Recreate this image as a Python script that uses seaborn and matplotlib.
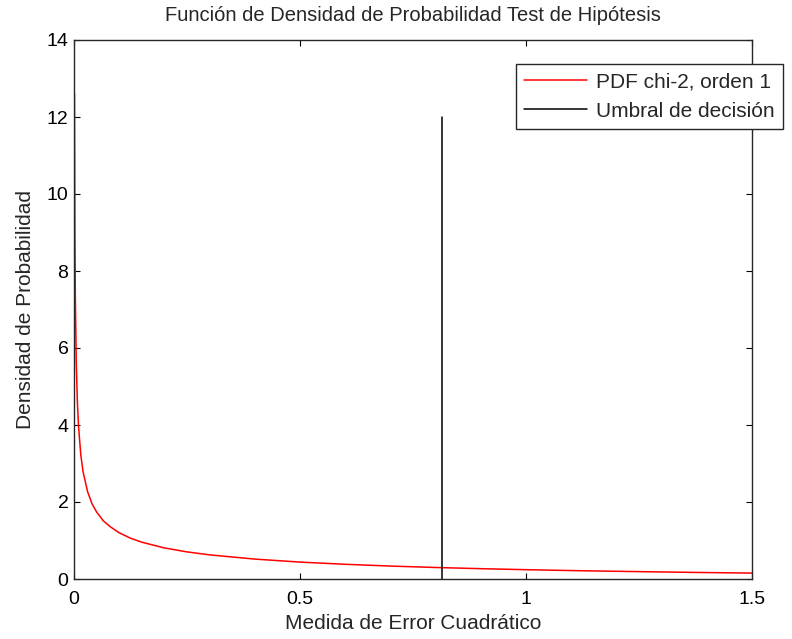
import matplotlib
matplotlib.use("Agg")
import matplotlib.pyplot as plt
import seaborn as sns
import pandas as pd

# Chi-square (1 dof) density samples along the error axis
error_x = [0.001, 0.002, 0.003, 0.005, 0.0075, 0.01, 0.015, 0.02, 0.03, 0.04,
           0.05, 0.065, 0.08, 0.1, 0.125, 0.15, 0.2, 0.25, 0.3, 0.4, 0.5,
           0.6, 0.7, 0.8, 0.9, 1.0, 1.1, 1.2, 1.3, 1.4, 1.5]
density_y = [12.6, 8.91, 7.28, 5.63, 4.59, 3.97, 3.23, 2.79, 2.27, 1.95,
             1.74, 1.51, 1.36, 1.20, 1.06, 0.956, 0.807, 0.704, 0.627, 0.517, 0.439,
             0.382, 0.336, 0.299, 0.268, 0.242, 0.219, 0.200, 0.183, 0.167, 0.154]

# Decision threshold (vertical line)
threshold_x = [0.815, 0.815]
threshold_y = [0.0, 12.0]

x_ticks = [0, 0.5, 1, 1.5]
x_tick_labels = ["0", "0.5", "1", "1.5"]
y_ticks = [0, 2, 4, 6, 8, 10, 12, 14]

sns.set_style("white")
plt.rcParams["font.family"] = ["Liberation Sans", "DejaVu Sans"]

fig = plt.figure(figsize=(7.92, 6.39), dpi=100)
ax = fig.add_axes([74 / 792, 1 - 579 / 639, (752 - 74) / 792, (579 - 40) / 639])

pdf_df = pd.DataFrame({"x": error_x, "y": density_y})
thr_df = pd.DataFrame({"x": threshold_x, "y": threshold_y})

sns.lineplot(data=pdf_df, x="x", y="y", ax=ax, color="#ff0000", linewidth=1.1,
             sort=False, estimator=None, label="PDF chi-2, orden 1")
sns.lineplot(data=thr_df, x="x", y="y", ax=ax, color="black", linewidth=1.1,
             sort=False, estimator=None, label="Umbral de decisión")

ax.set_xlim(0, 1.5)
ax.set_ylim(0, 14)
ax.set_xticks(x_ticks)
ax.set_xticklabels(x_tick_labels)
ax.set_yticks(y_ticks)

ax.tick_params(axis="both", which="both", direction="in", length=4, width=0.8,
               top=True, right=True, bottom=True, left=True,
               labelsize=14, colors="black")
ax.tick_params(axis="x", pad=9)
ax.tick_params(axis="y", pad=4)
for side in ["top", "right", "bottom", "left"]:
    ax.spines[side].set_visible(True)
    ax.spines[side].set_color("#262626")
    ax.spines[side].set_linewidth(1.0)

ax.set_title("Función de Densidad de Probabilidad Test de Hipótesis",
             fontsize=14.5, pad=14)
ax.set_xlabel("Medida de Error Cuadrático", fontsize=15, labelpad=4)
ax.set_ylabel("Densidad de Probabilidad", fontsize=15, labelpad=8)

leg = ax.legend(loc="upper right", bbox_to_anchor=(783 / 792, 1 - 64 / 639),
                bbox_transform=fig.transFigure, fontsize=15, frameon=True,
                fancybox=False, framealpha=1.0, edgecolor="#262626",
                handlelength=3.0, handletextpad=0.45, borderpad=0.4,
                labelspacing=0.5, borderaxespad=0)
leg.get_frame().set_linewidth(1.0)

fig.savefig("out.png", dpi=100, facecolor="white")
